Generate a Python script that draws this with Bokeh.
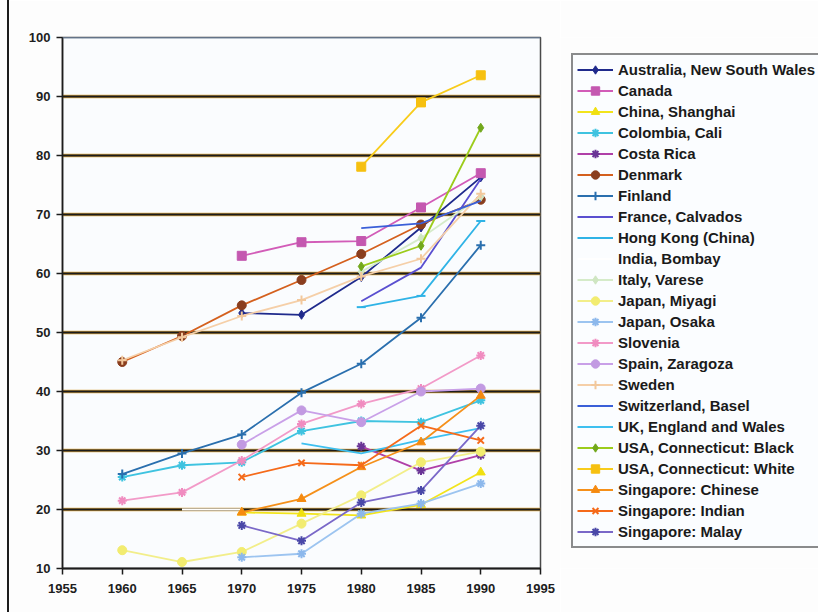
import math

from bokeh.embed import file_html
from bokeh.layouts import row
from bokeh.models import FixedTicker, Grid, Legend, LegendItem, Range1d, Span
from bokeh.plotting import figure
from bokeh.resources import INLINE

# ---- data: incidence by registry, 1960-1990 (None = no value) ----
YEARS = [1960, 1965, 1970, 1975, 1980, 1985, 1990]
N = None

australia_nsw = [N, N, 53.3, 53.0, 59.4, 67.8, 76.3]
canada = [N, N, 63.0, 65.3, 65.5, 71.2, 77.0]
china_shanghai = [N, N, 19.5, 19.3, 19.0, 20.8, 26.3]
colombia_cali = [25.5, 27.5, 28.0, 33.3, 35.0, 34.8, 38.5]
costa_rica = [N, N, N, N, 30.7, 26.6, 29.2]
denmark = [45.0, 49.4, 54.6, 58.9, 63.3, 68.3, 72.5]
finland = [26.0, 29.5, 32.7, 39.8, 44.7, 52.5, 64.8]
france_calvados = [N, N, N, N, 55.3, 61.0, 76.0]
hong_kong = [N, N, N, N, 54.3, 56.2, 68.9]
india_bombay = [N, 20.0, 20.0, N, N, N, N]
italy_varese = [N, N, N, N, 60.3, 66.0, 73.0]
japan_miyagi = [13.1, 11.1, 12.8, 17.6, 22.4, 28.0, 29.8]
japan_osaka = [N, N, 11.9, 12.5, 19.3, 21.0, 24.4]
slovenia = [21.5, 22.9, 28.3, 34.5, 37.9, 40.5, 46.1]
spain_zaragoza = [N, N, 31.0, 36.8, 34.8, 40.0, 40.5]
sweden = [45.3, 49.2, 52.8, 55.5, 59.5, 62.5, 73.5]
switzerland_basel = [N, N, N, N, 67.7, 68.5, 72.3]
uk_england_wales = [N, N, N, 31.2, 29.5, 31.8, 33.8]
usa_conn_black = [N, N, N, N, 61.2, 64.7, 84.7]
usa_conn_white = [N, N, N, N, 78.1, 89.0, 93.6]
singapore_chinese = [N, N, 19.5, 21.8, 27.2, 31.4, 39.3]
singapore_indian = [N, N, 25.5, 27.9, 27.5, 34.2, 31.7]
singapore_malay = [N, N, 17.3, 14.7, 21.2, 23.2, 34.2]

X_TICKS = [1955, 1960, 1965, 1970, 1975, 1980, 1985, 1990, 1995]
Y_TICKS = [10, 20, 30, 40, 50, 60, 70, 80, 90, 100]

# label, values, line colour, marker, marker colour
SERIES = [
    ("Australia, New South Wales", australia_nsw, "#1f2a8c", "diamond", "#1f2a8c"),
    ("Canada", canada, "#d25cb8", "square", "#c458b0"),
    ("China, Shanghai", china_shanghai, "#f2e41c", "triangle", "#f0e010"),
    ("Colombia, Cali", colombia_cali, "#3fc3e0", "asterisk", "#3fc3e0"),
    ("Costa Rica", costa_rica, "#b040a8", "asterisk", "#6a3496"),
    ("Denmark", denmark, "#d4601e", "circle", "#8a3e1e"),
    ("Finland", finland, "#2a6fae", "cross", "#2a6fae"),
    ("France, Calvados", france_calvados, "#5a4fd0", None, None),
    ("Hong Kong (China)", hong_kong, "#2fb3e6", "dash", "#2fb3e6"),
    ("India, Bombay", india_bombay, "#ffffff", None, None),
    ("Italy, Varese", italy_varese, "#d5ebc9", "diamond", "#cfe6c2"),
    ("Japan, Miyagi", japan_miyagi, "#f2ee8a", "circle", "#f2ec70"),
    ("Japan, Osaka", japan_osaka, "#9cc4f0", "asterisk", "#8cb8ec"),
    ("Slovenia", slovenia, "#f29ac8", "asterisk", "#f08cc0"),
    ("Spain, Zaragoza", spain_zaragoza, "#c9a0e8", "circle", "#c29ae2"),
    ("Sweden", sweden, "#f5cfa8", "cross", "#f2c89c"),
    ("Switzerland, Basel", switzerland_basel, "#3a5fd8", None, None),
    ("UK, England and Wales", uk_england_wales, "#3ec0f0", None, None),
    ("USA, Connecticut: Black", usa_conn_black, "#9ccc1c", "diamond", "#72a81c"),
    ("USA, Connecticut: White", usa_conn_white, "#f8cc1c", "square", "#f6c010"),
    ("Singapore: Chinese", singapore_chinese, "#f5901a", "triangle", "#f58a10"),
    ("Singapore: Indian", singapore_indian, "#f56a1a", "x", "#f56a1a"),
    ("Singapore: Malay", singapore_malay, "#7a68c8", "asterisk", "#4a48a8"),
]

FONT = "Liberation Sans"
PAGE_BG = "#fdfdfd"


def draw_series(fig, label, vals, lcol, marker, mcol):
    """Draw one registry as a line with markers; return its renderers."""
    ys = [math.nan if v is None else v for v in vals]
    rends = [fig.line(YEARS, ys, line_color=lcol, line_width=1.8)]
    if marker is not None:
        pts = [(x, v) for x, v in zip(YEARS, vals) if v is not None]
        lw = 2 if marker in ("asterisk", "cross", "x", "dash") else 1
        rends.append(fig.scatter([a for a, _ in pts], [b for _, b in pts],
                                 marker=marker, size=9, fill_color=mcol,
                                 line_color=mcol, line_width=lw))
    return rends


# ---------------- main chart ----------------
p = figure(
    width=553, height=612,
    x_range=Range1d(1955, 1995), y_range=Range1d(10, 100),
    output_backend="svg", toolbar_location=None,
    min_border_left=53, min_border_right=22,
    min_border_top=37, min_border_bottom=44,
    background_fill_color="#fafcfe", border_fill_color=PAGE_BG,
    margin=(0, 0, 0, 7),
)
p.styles = {"border-left": "2px solid #1e1e1e"}

# frame: blue-grey top edge, dark right edge
p.outline_line_color = "#4a4a4a"
p.outline_line_width = 1.5
p.add_layout(Span(location=100, dimension="width",
                  line_color="#7e9cc4", line_width=1.5))

# horizontal gridlines: warm halo under a dark rule
p.xgrid.visible = False
p.ygrid.ticker = FixedTicker(ticks=Y_TICKS[1:-1])
p.ygrid.grid_line_color = "#d9a441"
p.ygrid.grid_line_width = 3.6
p.add_layout(Grid(dimension=1, ticker=FixedTicker(ticks=Y_TICKS[1:-1]),
                  grid_line_color="#1c1c1c", grid_line_width=2.0))

for ax, ticks in ((p.xaxis[0], X_TICKS), (p.yaxis[0], Y_TICKS)):
    ax.ticker = FixedTicker(ticks=ticks)
    ax.axis_line_color = "#1c1c1c"
    ax.major_tick_line_color = "#1c1c1c"
    ax.major_tick_line_width = 1.5
    ax.major_tick_out = 6
    ax.major_tick_in = 0
    ax.minor_tick_line_color = None
    ax.major_label_text_font = FONT
    ax.major_label_text_font_style = "bold"
    ax.major_label_text_font_size = "13px"
    ax.major_label_text_color = "#1e1e1e"
p.xaxis.axis_line_width = 2.2
p.yaxis.axis_line_width = 1.6
p.xaxis.major_label_standoff = 9
p.yaxis.major_label_standoff = 6

for s in SERIES:
    draw_series(p, *s)

# ---------------- legend panel ----------------
# A bare figure holding only the key; its ranges keep the series out of view.
lg = figure(
    width=258, height=612,
    x_range=Range1d(0, 1), y_range=Range1d(0, 1),
    output_backend="svg", toolbar_location=None,
    x_axis_type=None, y_axis_type=None,
    min_border=0, outline_line_color=None,
    background_fill_color=PAGE_BG, border_fill_color=PAGE_BG,
)
lg.xgrid.visible = False
lg.ygrid.visible = False

items = [LegendItem(label=s[0], renderers=draw_series(lg, *s)) for s in SERIES]

legend = Legend(
    items=items, location=(11, 20),
    glyph_width=36, glyph_height=21, label_height=21, label_standoff=5,
    spacing=0, padding=4, margin=0,
    label_text_font=FONT, label_text_font_style="bold",
    label_text_font_size="15px", label_text_color="#1a1a1a",
    border_line_color="#1a1a1a", border_line_width=2,
    background_fill_color="#fbfdff", background_fill_alpha=1.0,
)
lg.add_layout(legend, "center")

layout = row(p, lg, spacing=0)
open("out.html", "w").write(file_html(layout, INLINE))
